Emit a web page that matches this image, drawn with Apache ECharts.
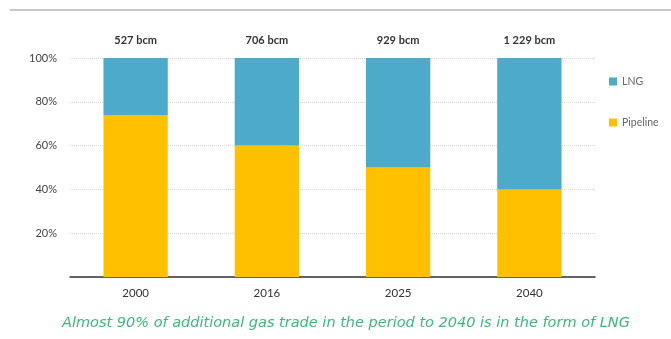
<!DOCTYPE html>
<html>
<head>
<meta charset="utf-8">
<script src="https://cdn.jsdelivr.net/npm/echarts@6/dist/echarts.min.js"></script>
<style>
  html, body { margin: 0; padding: 0; background: #fff; }
  #chart { width: 671px; height: 339px; }
</style>
</head>
<body>
<div id="chart"></div>
<script>
// Share of inter-regional gas trade by mode, with total volume per year
const years = ['2000', '2016', '2025', '2040'];
const totals = ['527 bcm', '706 bcm', '929 bcm', '1 229 bcm'];
const pipelineShare = [74, 60, 50, 40];
const lngShare = [26, 40, 50, 60];
const yTicks = [20, 40, 60, 80, 100];
const caption = 'Almost 90% of additional gas trade in the period to 2040 is in the form of LNG';

const chart = echarts.init(document.getElementById('chart'));

chart.setOption({
  animation: false,
  textStyle: { fontFamily: 'Lato, "Open Sans", sans-serif' },
  grid: { left: 70, right: 76, top: 58, bottom: 62 },
  legend: {
    orient: 'vertical',
    left: 604,
    top: 71,
    itemGap: 30,
    itemWidth: 8,
    itemHeight: 8,
    icon: 'rect',
    textStyle: { fontSize: 10.5, color: '#666' },
    data: ['LNG', 'Pipeline']
  },
  xAxis: {
    type: 'category',
    data: years,
    axisLine: { lineStyle: { color: '#333', width: 1.5 } },
    axisTick: { show: false },
    axisLabel: { color: '#333', fontSize: 11.5, margin: 10 }
  },
  yAxis: {
    type: 'value',
    min: 0,
    max: 100,
    interval: 20,
    axisLine: { show: false },
    axisTick: { show: false },
    axisLabel: {
      color: '#444',
      fontSize: 11,
      margin: 13,
      formatter: v => (yTicks.indexOf(v) >= 0 ? v + '%' : '')
    },
    splitLine: { lineStyle: { color: '#d6d6d6', type: 'dotted' } }
  },
  series: [
    {
      name: 'Pipeline',
      type: 'bar',
      stack: 'share',
      barWidth: '49%',
      itemStyle: { color: '#ffc000' },
      data: pipelineShare
    },
    {
      name: 'LNG',
      type: 'bar',
      stack: 'share',
      barWidth: '49%',
      itemStyle: { color: '#4babc8' },
      label: {
        show: true,
        position: 'top',
        distance: 12,
        color: '#333',
        fontSize: 11,
        fontWeight: 'bold',
        formatter: p => totals[p.dataIndex]
      },
      data: lngShare
    }
  ],
  graphic: [
    {
      type: 'line',
      shape: { x1: 10, y1: 10, x2: 671, y2: 10 },
      style: { stroke: '#b5b5b5', lineWidth: 1.5 }
    },
    {
      type: 'text',
      left: 62,
      top: 316,
      style: {
        text: caption,
        fill: '#3cb878',
        font: 'italic 14.5px "DejaVu Sans", sans-serif'
      }
    }
  ]
});
</script>
</body>
</html>
